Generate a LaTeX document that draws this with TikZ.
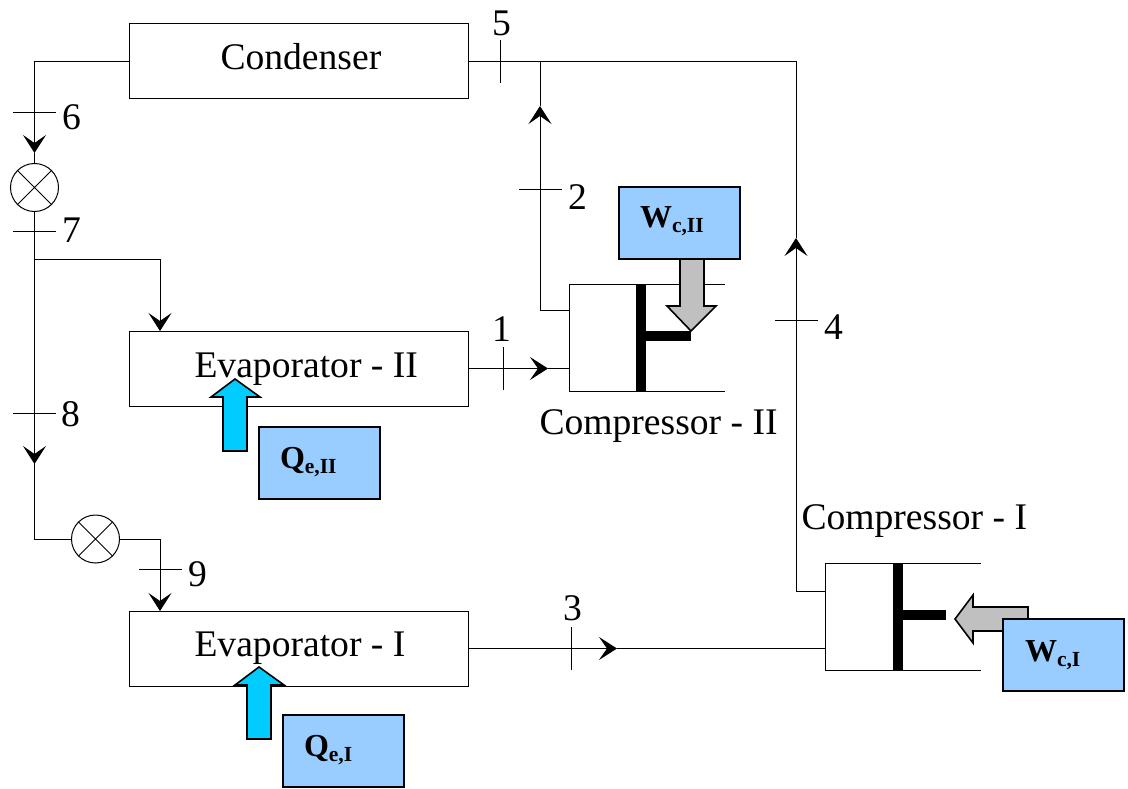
\documentclass[tikz,border=0pt]{standalone}
\usepackage{fontspec}
\setmainfont{Liberation Serif}
\usetikzlibrary{arrows.meta}
\tikzset{
  flow/.style={line width=1pt,black},
  tip/.style={flow,-{Stealth[length=18pt,width=23pt,inset=8pt]}},
  tick/.style={line width=1pt,black},
  unitbox/.style={draw=black,line width=1pt,rectangle,minimum width=339pt,minimum height=75pt,inner sep=0pt,outer sep=0pt},
  valve/.style={draw=black,line width=1pt,circle,minimum size=48pt,inner sep=0pt,outer sep=0pt},
  tag/.style={draw=black,line width=1.6pt,fill=tagblue,rectangle,minimum width=121pt,minimum height=72pt,inner sep=0pt,outer sep=0pt},
  wall/.style={line width=1pt,black},
  piston/.style={line width=10pt,black},
  bluearrow/.style={draw=black,line width=1.6pt,fill=heatblue,line join=miter},
  grayarrow/.style={draw=black,line width=1.6pt,fill=workgray,line join=miter},
  txt/.style={anchor=base west,inner sep=0pt,outer sep=0pt,font=\fontsize{37.6}{40}\selectfont},
  num/.style={anchor=base,inner sep=0pt,outer sep=0pt,font=\fontsize{37.6}{40}\selectfont},
  tagtxt/.style={anchor=base west,inner sep=0pt,outer sep=0pt,font=\bfseries}
}
\definecolor{tagblue}{HTML}{99CCFF}
\definecolor{heatblue}{HTML}{00CCFF}
\definecolor{workgray}{HTML}{C0C0C0}
\newcommand{\taglabel}[2]{{\fontsize{32}{32}\selectfont #1}\raisebox{-5pt}{\fontsize{21.5}{22}\selectfont #2}}
\begin{document}
\begin{tikzpicture}[x=1pt,y=-1pt]
\useasboundingbox (0,0) rectangle (1128,789);
% units
\node[unitbox] (cond) at (299,61.5) {};
\node[unitbox] (evb) at (299,368.5) {};
\node[unitbox] (eva) at (299,648.5) {};
\node[valve] (v1) at (34.5,187.5) {};
\node[valve] (v2) at (95.5,539) {};
\draw[flow] (v1.45) -- (v1.225) (v1.135) -- (v1.315);
\draw[flow] (v2.45) -- (v2.225) (v2.135) -- (v2.315);
% compressors
\coordinate (c2tl) at (569.5,284); \coordinate (c2bl) at (569.5,391);
\coordinate (c2tr) at (725,284); \coordinate (c2br) at (725,391);
\coordinate (c1tl) at (825.5,563); \coordinate (c1bl) at (825.5,670);
\coordinate (c1tr) at (981,563); \coordinate (c1br) at (981,670);
\draw[wall] (c2tr) -- (c2tl) -- (c2bl) -- (c2br);
\draw[wall] (c1tr) -- (c1tl) -- (c1bl) -- (c1br);
\draw[piston] (641,284) -- (641,391);
\draw[piston] (641,335.5) -- (691,335.5);
\draw[piston] (897.5,563) -- (897.5,670);
\draw[piston] (897.5,614.5) -- (946,614.5);
% named junctions
\coordinate (in2) at (569.5,310);
\coordinate (in2m) at (569.5,368.5);
\coordinate (in1m) at (825.5,648.5);
\coordinate (out1) at (825.5,591);
\coordinate (j5) at (540,61.5);
\coordinate (j4) at (796,61.5);
\coordinate (j7) at (34.5,259);
\coordinate (a6) at (34.5,153);
\coordinate (a8) at (34.5,464);
\coordinate (a2) at (540,106);
\coordinate (a4) at (796,238);
\coordinate (a1) at (548,368.5);
\coordinate (a3) at (617,648.5);
\coordinate (l6) at (34.5,61.5);
\coordinate (l8) at (34.5,539);
\coordinate (b2) at (160,539);
\coordinate (b1) at (160,259);
% connectors
\draw[tip] (cond.west) -- (l6) -- (a6);
\draw[flow] (a6) -- (v1.north);
\draw[flow] (v1.south) -- (a8);
\draw[tip] (j7) -- (a8);
\draw[flow] (a8) -- (l8) -- (v2.west);
\draw[flow] (j7) -- (b1);
\draw[tip] (b1) -- (b1 |- evb.north);
\draw[flow] (v2.east) -- (b2);
\draw[tip] (b2) -- (b2 |- eva.north);
\draw[flow] (cond.east) -- (j4) -- (a4);
\draw[tip] (out1) -| (a4);
\draw[tip] (in2) -| (a2);
\draw[flow] (a2) -- (j5);
\draw[tip] (evb.east) -- (a1);
\draw[flow] (a1) -- (in2m);
\draw[tip] (eva.east) -- (a3);
\draw[flow] (a3) -- (in1m);
% ticks
\draw[tick] (13,113) -- (56,113);
\draw[tick] (13,231) -- (56,231);
\draw[tick] (13,413) -- (56,413);
\draw[tick] (139,569) -- (182,569);
\draw[tick] (500,40) -- (500,83);
\draw[tick] (519,190) -- (562,190);
\draw[tick] (503,347) -- (503,390);
\draw[tick] (775,320) -- (818,320);
\draw[tick] (571,627) -- (571,670);
% block arrows
\draw[bluearrow] (235,379) -- (260,397) -- (247,397) -- (247,451) -- (223,451) -- (223,397) -- (211,397) -- cycle;
\draw[bluearrow] (259,667) -- (284,685) -- (271,685) -- (271,739) -- (247,739) -- (247,685) -- (235,685) -- cycle;
\draw[grayarrow] (691,331) -- (716,306) -- (704,306) -- (704,259) -- (680,259) -- (680,306) -- (667,306) -- cycle;
\draw[grayarrow] (955,619) -- (973,595) -- (973,607) -- (1028,607) -- (1028,631) -- (973,631) -- (973,643) -- cycle;
% tags
\node[tag] (tw2) at (679.5,223) {};
\node[tag] (tw1) at (1063.5,655) {};
\node[tag] (tq2) at (319.5,463) {};
\node[tag] (tq1) at (343.5,751) {};
\node[tagtxt] (ltw2) at (640,228) {\taglabel{W}{c,II}};
\node[tagtxt] (ltw1) at (1025,661) {\taglabel{W}{c,I}};
\node[tagtxt] (ltq2) at (280,468) {\taglabel{Q}{e,II}};
\node[tagtxt] (ltq1) at (304,756) {\taglabel{Q}{e,I}};
% texts
\node[txt] (tcond) at (220.5,70) {Condenser};
\node[txt] (tevb) at (194.5,377) {Evaporator - II};
\node[txt] (teva) at (194.5,656) {Evaporator - I};
\node[txt] (tc2) at (539.5,434) {Compressor - II};
\node[txt] (tc1) at (801.5,529) {Compressor - I};
\node[num] (n1) at (501.5,341) {1};
\node[num] (n2) at (577.5,209) {2};
\node[num] (n3) at (572.5,620) {3};
\node[num] (n4) at (833.5,339) {4};
\node[num] (n5) at (501.5,36) {5};
\node[num] (n6) at (71.5,130) {6};
\node[num] (n7) at (71.5,242) {7};
\node[num] (n8) at (70.5,426) {8};
\node[num] (n9) at (197.5,586) {9};
\end{tikzpicture}
\end{document}
